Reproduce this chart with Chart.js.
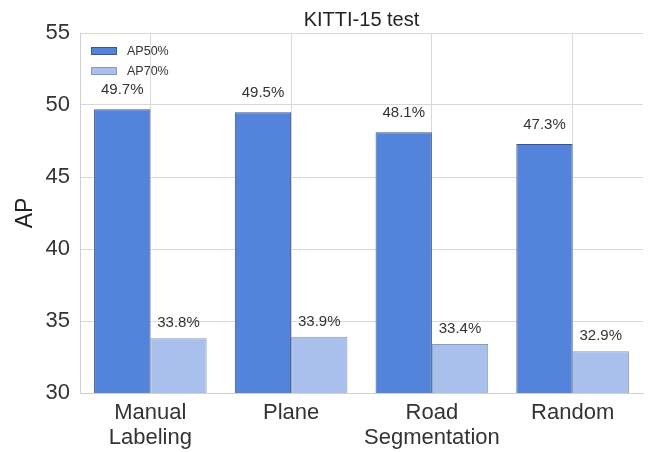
<!DOCTYPE html>
<html>
<head>
<meta charset="utf-8">
<script src="https://cdn.jsdelivr.net/npm/chart.js@4/dist/chart.umd.min.js"></script>
<style>
  html, body { margin: 0; padding: 0; background: #fff; }
  #wrap { width: 652px; height: 452px; }
</style>
</head>
<body>
<div id="wrap"><canvas id="myChart" width="652" height="452"></canvas></div>
<script>
const categories = [['Manual', 'Labeling'], 'Plane', ['Road', 'Segmentation'], 'Random'];
const ap50 = [49.7, 49.5, 48.1, 47.3];
const ap70 = [33.8, 33.9, 33.4, 32.9];
const yTicks = [30, 35, 40, 45, 50, 55];

const FONT = '"Liberation Sans", Arial, sans-serif';
const DARK = '#5383db';
const LIGHT = '#aac0ec';

// labels above bars, legend, title and the y axis title
const extras = {
    id: 'extras',
    afterDatasetsDraw(chart) {
        const ctx = chart.ctx;
        const y = chart.scales.y;
        const area = chart.chartArea;
        ctx.save();
        ctx.fillStyle = '#333';
        ctx.font = '15px ' + FONT;
        ctx.textAlign = 'center';
        ctx.textBaseline = 'bottom';
        chart.data.datasets.forEach(function (ds, i) {
            chart.getDatasetMeta(i).data.forEach(function (bar, j) {
                const v = ds.data[j];
                ctx.fillText(v.toFixed(1) + '%', bar.x, y.getPixelForValue(v * 1.02) + 2);
            });
        });

        // legend
        ctx.textAlign = 'left';
        ctx.textBaseline = 'middle';
        ctx.font = '12.5px ' + FONT;
        chart.data.datasets.forEach(function (ds, i) {
            const ly = area.top + 18 + i * 20;
            ctx.fillStyle = ds.backgroundColor;
            ctx.strokeStyle = ds.borderColor;
            ctx.lineWidth = 1;
            ctx.fillRect(area.left + 11, ly - 4, 26, 8);
            ctx.strokeRect(area.left + 11.5, ly - 3.5, 25, 7);
            ctx.fillStyle = '#333';
            ctx.fillText(ds.label, area.left + 47, ly + 1);
        });

        // title
        ctx.textAlign = 'center';
        ctx.font = '20px ' + FONT;
        ctx.fillStyle = '#222';
        ctx.fillText('KITTI-15 test', (area.left + area.right) / 2, 20);

        // y axis title
        ctx.translate(26, (area.top + area.bottom) / 2);
        ctx.rotate(-Math.PI / 2);
        ctx.font = '23px ' + FONT;
        ctx.fillText('AP', 0, 0);
        ctx.restore();
    }
};

new Chart(document.getElementById('myChart'), {
    type: 'bar',
    data: {
        labels: categories,
        datasets: [{
            label: 'AP50%',
            data: ap50,
            backgroundColor: DARK,
            borderColor: '#3b5587',
            borderWidth: 1,
            borderSkipped: false,
            categoryPercentage: 0.8,
            barPercentage: 1.0
        }, {
            label: 'AP70%',
            data: ap70,
            backgroundColor: LIGHT,
            borderColor: '#8a9ab8',
            borderWidth: 1,
            borderSkipped: false,
            categoryPercentage: 0.8,
            barPercentage: 1.0
        }]
    },
    options: {
        responsive: false,
        animation: false,
        layout: { padding: { top: 33, right: 9, left: 0, bottom: 0 } },
        plugins: {
            legend: { display: false },
            tooltip: { enabled: false },
            title: { display: false }
        },
        scales: {
            x: {
                grid: { color: '#d8d8d8', offset: false, drawTicks: false },
                border: { color: '#d0d0d0' },
                ticks: { color: '#333', font: { size: 22, family: FONT, lineHeight: 1.15 }, padding: 7, maxRotation: 0, autoSkip: false },
                afterFit(scale) { scale.height = 59; }
            },
            y: {
                min: 30,
                max: 55,
                afterBuildTicks(scale) { scale.ticks = yTicks.map(function (v) { return { value: v }; }); },
                grid: { color: '#d8d8d8', drawTicks: false },
                border: { color: '#d0d0d0' },
                ticks: { color: '#333', font: { size: 22, family: FONT }, padding: 10 },
                afterFit(scale) { scale.width = 80; }
            }
        }
    },
    plugins: [extras]
});
</script>
</body>
</html>
